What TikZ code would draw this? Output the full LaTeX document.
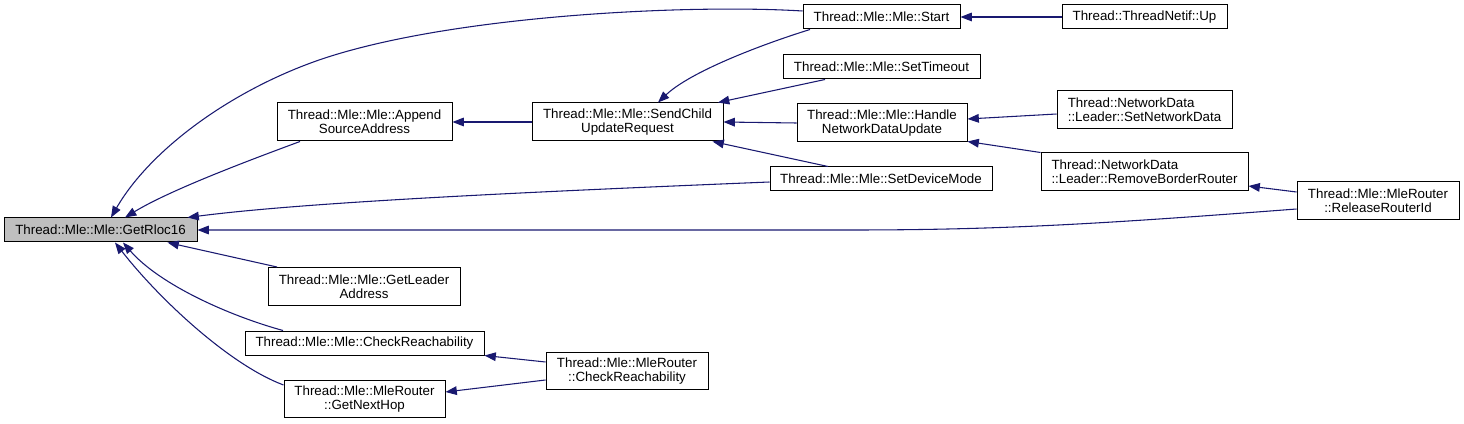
\documentclass[tikz,border=0pt]{standalone}
\usepackage{fontspec}
\setmainfont{Liberation Sans}
\usetikzlibrary{arrows.meta}
\definecolor{edgeblue}{HTML}{191970}
\definecolor{hlgray}{HTML}{BFBFBF}
\begin{document}
\begin{tikzpicture}[x=0.75pt,y=-0.75pt,
  box/.style={draw=black, line width=0.75pt, inner sep=0pt, fill=white,
    font=\fontsize{10}{10.5}\selectfont, align=center},
  sz/.style 2 args={minimum width=#1*0.75pt, minimum height=#2*0.75pt},
  edge/.style={draw=edgeblue, line width=0.8pt, -{Triangle[length=8.5pt,width=6.5pt]}}]
\useasboundingbox (0,0) rectangle (1464,424);

% nodes
\node[box, sz={193}{24}, fill=hlgray] (rloc) at (100.5,230) {Thread::Mle::Mle::GetRloc16};
\node[box, sz={175}{38}] (append) at (364.5,122) {Thread::Mle::Mle::Append\\SourceAddress};
\node[box, sz={191}{38}] (send) at (627.5,122) {Thread::Mle::Mle::SendChild\\UpdateRequest};
\node[box, sz={157}{24}] (start) at (881.5,17) {Thread::Mle::Mle::Start};
\node[box, sz={165}{24}] (up) at (1144.5,17) {Thread::ThreadNetif::Up};
\node[box, sz={197}{24}] (sett) at (881.5,67) {Thread::Mle::Mle::SetTimeout};
\node[box, sz={170}{38}] (handle) at (882,123) {Thread::Mle::Mle::Handle\\NetworkDataUpdate};
\node[box, sz={222}{24}] (setdev) at (881,179) {Thread::Mle::Mle::SetDeviceMode};
\node[box, sz={175}{38}, align=left] (setnd) at (1144.5,110) {Thread::NetworkData\\::Leader::SetNetworkData};
\node[box, sz={207}{38}, align=left] (rembr) at (1144.5,172) {Thread::NetworkData\\::Leader::RemoveBorderRouter};
\node[box, sz={162}{38}] (release) at (1378,201) {Thread::Mle::MleRouter\\::ReleaseRouterId};
\node[box, sz={192}{38}] (leader) at (364,286.5) {Thread::Mle::Mle::GetLeader\\Address};
\node[box, sz={239}{24}] (checkm) at (364.5,343) {Thread::Mle::Mle::CheckReachability};
\node[box, sz={161}{37}] (nexthop) at (364.5,399) {Thread::Mle::MleRouter\\::GetNextHop};
\node[box, sz={162}{37}] (checkr) at (627,371) {Thread::Mle::MleRouter\\::CheckReachability};

% edges
\draw[edge] ([shift={(0,-6)}]start.west) .. controls (690,4) and (450,15) .. (319,60)
  .. controls (230,91) and (150,150) .. ([shift={(10.5,0)}]rloc.north);
\draw[edge] ([shift={(-71.5,0)}]start.south) .. controls (760,45) and (690,72) .. ([shift={(30.5,0)}]send.north);
\draw[edge] ([shift={(-56.5,0)}]sett.south) -- ([shift={(-5.5,0)}]send.north east);
\draw[edge] (handle.west) -- (send.east);
\draw[edge] ([shift={(-53,0)}]setdev.north) -- ([shift={(-11,0)}]send.south east);
\draw[edge] ([shift={(-64.5,0)}]append.south) .. controls (250,160) and (170,190) .. ([shift={(24.5,0)}]rloc.north);
\draw[edge] (send.west) -- (append.east);
\draw[edge] ([shift={(0,3)}]setdev.west) .. controls (500,193) and (300,203) .. ([shift={(-10,0)}]rloc.north east);
\draw[edge] ([shift={(0,8)}]release.west) .. controls (1100,224) and (1000,230) .. (850,230) -- (rloc.east);
\draw[edge] ([shift={(0,-9)}]release.west) -- ([shift={(0,14)}]rembr.east);
\draw[edge] (up.west) -- (start.east);
\draw[edge] ([shift={(0,4)}]setnd.west) -- ([shift={(0,-4)}]handle.east);
\draw[edge] (rembr.north west) -- ([shift={(0,-1)}]handle.south east);
\draw[edge] ([shift={(-87,0)}]leader.north) -- ([shift={(-30,0)}]rloc.south east);
\draw[edge] ([shift={(-81.5,0)}]checkm.north) .. controls (230,316) and (160,285) .. ([shift={(22.5,0)}]rloc.south);
\draw[edge] ([shift={(0,-14)}]nexthop.west) .. controls (230,365) and (160,300) .. ([shift={(14.5,0)}]rloc.south);
\draw[edge] ([shift={(0,-9)}]checkr.west) -- (checkm.south east);
\draw[edge] ([shift={(0,9)}]checkr.west) -- ([shift={(0,-7)}]nexthop.east);
\end{tikzpicture}
\end{document}
